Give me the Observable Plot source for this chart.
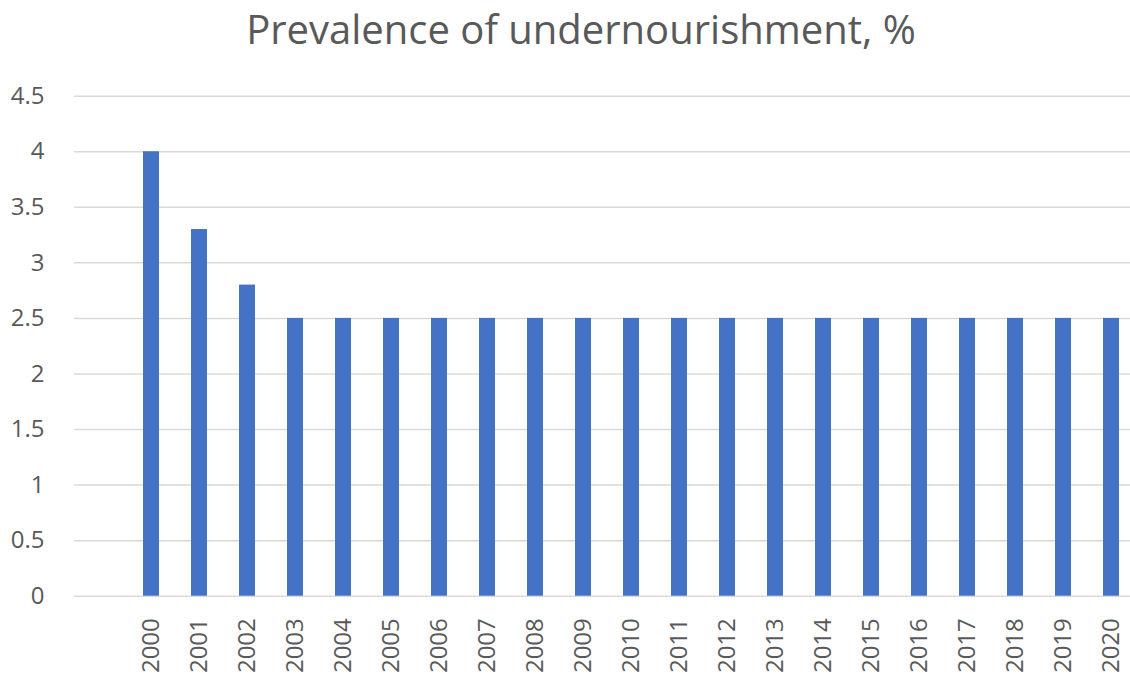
<!DOCTYPE html>
<html>
<head>
<meta charset="utf-8">
<script src="https://cdn.jsdelivr.net/npm/d3@7"></script>
<script src="https://cdn.jsdelivr.net/npm/@observablehq/plot@0.6"></script>
<style>
  html, body { margin: 0; padding: 0; background: #fff; }
  #wrap { position: relative; width: 1130px; height: 675px; overflow: hidden; }
  #title { position: absolute; left: 0; top: 1px; width: 1162px; text-align: center;
           font-family: "Open Sans", sans-serif; font-size: 40px; color: #595959; white-space: nowrap; }
  #chart { position: absolute; left: 0; top: 0; }
</style>
</head>
<body>
<div id="wrap">
  <div id="chart"></div>
  <div id="title">Prevalence of undernourishment, %</div>
</div>
<script>
const years = ["2000","2001","2002","2003","2004","2005","2006","2007","2008","2009","2010",
               "2011","2012","2013","2014","2015","2016","2017","2018","2019","2020"];
const values = [4.0, 3.3, 2.8, 2.5, 2.5, 2.5, 2.5, 2.5, 2.5, 2.5, 2.5,
                2.5, 2.5, 2.5, 2.5, 2.5, 2.5, 2.5, 2.5, 2.5, 2.5];
const yTicks = [0, 0.5, 1, 1.5, 2, 2.5, 3, 3.5, 4, 4.5];

const data = years.map((y, i) => ({year: y, value: values[i]}));

const chart = Plot.plot({
  width: 1130,
  height: 675,
  marginLeft: 74,
  marginRight: 0,
  marginTop: 95.7,
  marginBottom: 79.3,
  style: {fontFamily: "Open Sans, sans-serif", color: "#595959", background: "#fff"},
  x: {type: "band", domain: years, range: [122.8, 1139.7], paddingInner: 0.67, paddingOuter: 0.335},
  y: {domain: [0, 4.5]},
  marks: [
    Plot.ruleY(yTicks, {stroke: "#d9d9d9", strokeWidth: 1.5}),
    Plot.barY(data, {x: "year", y: "value", fill: "#4472C4"}),
    Plot.axisY(yTicks, {tickSize: 0, tickPadding: 30, fontSize: 24, tickFormat: d => String(d), label: null}),
    Plot.axisX({tickSize: 0, tickRotate: -90, tickPadding: 22, fontSize: 24, label: null})
  ]
});
document.getElementById("chart").appendChild(chart);
</script>
</body>
</html>
